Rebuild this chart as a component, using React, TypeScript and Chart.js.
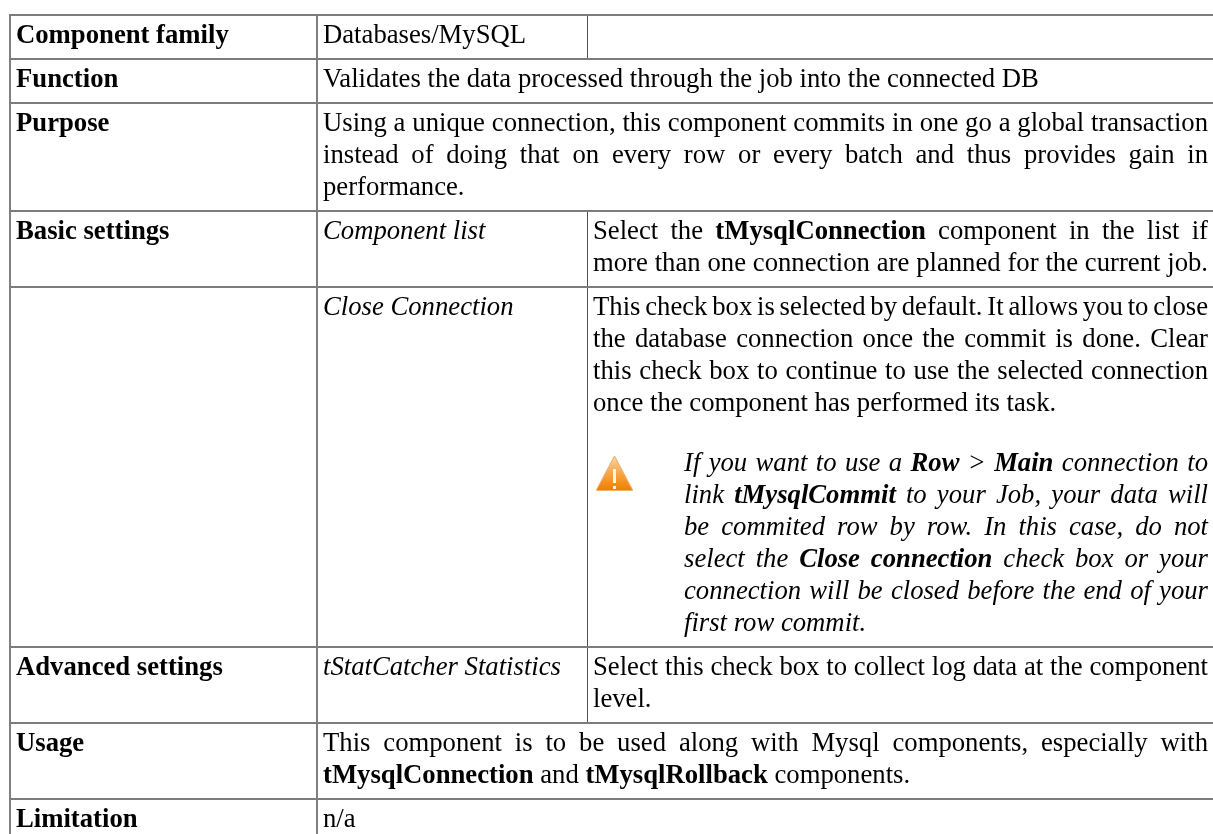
import React, { useEffect, useRef } from "react";
import { Chart, registerables } from "chart.js";

Chart.register(...registerables);

type Run = [string, string?];
type Line = { runs: Run[]; justify?: boolean };

const rowHeads = ["Component family", "Function", "Purpose", "Basic settings", "Advanced settings", "Usage", "Limitation"];
const optionNames = ["Component list", "Close Connection", "tStatCatcher Statistics"];

const familyText: Line[] = [{ runs: [["Databases/MySQL"]] }];
const functionText: Line[] = [{ runs: [["Validates the data processed through the job into the connected DB"]] }];
const purposeText: Line[] = [
  { runs: [["Using a unique connection, this component commits in one go a global transaction"]], justify: true },
  { runs: [["instead of doing that on every row or every batch and thus provides gain in"]], justify: true },
  { runs: [["performance."]] },
];
const listText: Line[] = [
  { runs: [["Select the "], ["tMysqlConnection", "b"], [" component in the list if"]], justify: true },
  { runs: [["more than one connection are planned for the current job."]], justify: true },
];
const closeText: Line[] = [
  { runs: [["This check box is selected by default. It allows you to close"]], justify: true },
  { runs: [["the database connection once the commit is done. Clear"]], justify: true },
  { runs: [["this check box to continue to use the selected connection"]], justify: true },
  { runs: [["once the component has performed its task."]] },
];
const noteText: Line[] = [
  { runs: [["If you want to use a ", "i"], ["Row", "bi"], [" > ", "i"], ["Main", "bi"], [" connection to", "i"]], justify: true },
  { runs: [["link ", "i"], ["tMysqlCommit", "bi"], [" to your Job, your data will", "i"]], justify: true },
  { runs: [["be commited row by row. In this case, do not", "i"]], justify: true },
  { runs: [["select the ", "i"], ["Close connection", "bi"], [" check box or your", "i"]], justify: true },
  { runs: [["connection will be closed before the end of your", "i"]], justify: true },
  { runs: [["first row commit.", "i"]] },
];
const statText: Line[] = [
  { runs: [["Select this check box to collect log data at the component"]], justify: true },
  { runs: [["level."]] },
];
const usageText: Line[] = [
  { runs: [["This component is to be used along with Mysql components, especially with"]], justify: true },
  { runs: [["tMysqlConnection", "b"], [" and "], ["tMysqlRollback", "b"], [" components."]] },
];
const limitText: Line[] = [{ runs: [["n/a"]] }];

const W = 1213;
const H = 834;
const rowEdges = [15, 59, 103, 211, 287, 647, 723, 799];
const colEdges = [10, 317, 587.5, W];
const col2Spans = [[15, 59], [211, 723]];
const lineGap = 32;
const FONT_SIZE = 26.7;
const FAMILY = '"Liberation Serif"';

function seg(x1: number, y1: number, x2: number, y2: number, color: string, width: number) {
  return {
    data: [{ x: x1, y: y1 }, { x: x2, y: y2 }],
    showLine: true,
    pointRadius: 0,
    borderColor: color,
    borderWidth: width,
    clip: false,
  };
}

const fontOf = (s?: string) =>
  `${s && s.includes("i") ? "italic " : ""}${s && s.includes("b") ? "bold " : ""}${FONT_SIZE}px ${FAMILY}`;

function drawLine(ctx: CanvasRenderingContext2D, line: Line, x: number, right: number, y: number) {
  const tokens: { t: string; s?: string; w: number }[] = [];
  for (const [text, style] of line.runs) {
    ctx.font = fontOf(style);
    for (const t of text.split(/( )/)) {
      if (t) tokens.push({ t, s: style, w: ctx.measureText(t).width });
    }
  }
  const total = tokens.reduce((a, b) => a + b.w, 0);
  const spaces = tokens.filter((k) => k.t === " ").length;
  const extra = line.justify && spaces ? (right - x - total) / spaces : 0;
  let cx = x;
  for (const k of tokens) {
    if (k.t !== " ") {
      ctx.font = fontOf(k.s);
      ctx.fillText(k.t, cx, y);
      cx += k.w;
    } else {
      cx += k.w + extra;
    }
  }
}

function drawBlock(ctx: CanvasRenderingContext2D, lines: Line[], x: number, right: number, y: number) {
  lines.forEach((l, i) => drawLine(ctx, l, x, right, y + i * lineGap));
}

const tablePlugin = {
  id: "tableText",
  afterDatasetsDraw(chart: any) {
    const { ctx, scales } = chart;
    const px = (v: number) => scales.x.getPixelForValue(v);
    const py = (v: number) => scales.y.getPixelForValue(v);
    ctx.save();
    ctx.fillStyle = "#000000";
    ctx.textBaseline = "alphabetic";
    ctx.textAlign = "left";

    const headYs = [43, 87, 131, 239, 675, 751, 827];
    rowHeads.forEach((t, i) => {
      ctx.font = fontOf("b");
      ctx.fillText(t, px(16), py(headYs[i]));
    });
    const optYs = [239, 315, 675];
    optionNames.forEach((t, i) => {
      ctx.font = fontOf("i");
      ctx.fillText(t, px(323), py(optYs[i]));
    });

    const xMid = px(323);
    const xCol = px(593);
    const xNote = px(684);
    const xRight = px(1208);
    drawBlock(ctx, familyText, xMid, xRight, py(43));
    drawBlock(ctx, functionText, xMid, xRight, py(87));
    drawBlock(ctx, purposeText, xMid, xRight, py(131));
    drawBlock(ctx, listText, xCol, xRight, py(239));
    drawBlock(ctx, closeText, xCol, xRight, py(315));
    drawBlock(ctx, noteText, xNote, xRight, py(471));
    drawBlock(ctx, statText, xCol, xRight, py(675));
    drawBlock(ctx, usageText, xMid, xRight, py(751));
    drawBlock(ctx, limitText, xMid, xRight, py(827));

    // warning icon
    const ix0 = px(597), ix1 = px(632), iTop = py(457), iBot = py(490);
    const cx = (ix0 + ix1) / 2;
    const g = ctx.createLinearGradient(0, iTop, 0, iBot);
    g.addColorStop(0, "#f9d3a4");
    g.addColorStop(0.5, "#f6a545");
    g.addColorStop(1, "#f08000");
    ctx.beginPath();
    ctx.moveTo(cx, iTop);
    ctx.lineTo(ix1, iBot);
    ctx.lineTo(ix0, iBot);
    ctx.closePath();
    ctx.fillStyle = g;
    ctx.strokeStyle = "#f0b070";
    ctx.lineWidth = 2;
    ctx.lineJoin = "round";
    ctx.stroke();
    ctx.fill();
    ctx.fillStyle = "#fff4e6";
    ctx.fillRect(cx - 1.5, py(469), 3, 14);
    ctx.fillRect(cx - 1.5, py(486), 3, 3);
    ctx.restore();
  },
};

export default function App() {
  const ref = useRef<HTMLCanvasElement>(null);
  useEffect(() => {
    document.body.style.margin = "0";
    document.body.style.background = "#ffffff";
    const datasets: any[] = [];
    rowEdges.forEach((y) => datasets.push(seg(colEdges[0] - 1, y, W, y, "#7c7c7c", 2)));
    datasets.push(seg(colEdges[0], rowEdges[0] - 1, colEdges[0], H, "#808080", 2));
    datasets.push(seg(colEdges[1], rowEdges[0], colEdges[1], H, "#808080", 2));
    col2Spans.forEach(([a, b]) => datasets.push(seg(colEdges[2], a, colEdges[2], b, "#505050", 1)));
    const chart = new Chart(ref.current!, {
      type: "scatter",
      data: { datasets },
      options: {
        animation: false,
        responsive: false,
        layout: { padding: 0 },
        plugins: { legend: { display: false }, tooltip: { enabled: false }, title: { display: false } },
        scales: {
          x: { type: "linear", display: false, min: 0, max: W },
          y: { type: "linear", display: false, min: 0, max: H, reverse: true },
        },
      },
      plugins: [tablePlugin],
    } as any);
    return () => chart.destroy();
  }, []);
  return <canvas ref={ref} width={W} height={H} style={{ display: "block" }} />;
}
